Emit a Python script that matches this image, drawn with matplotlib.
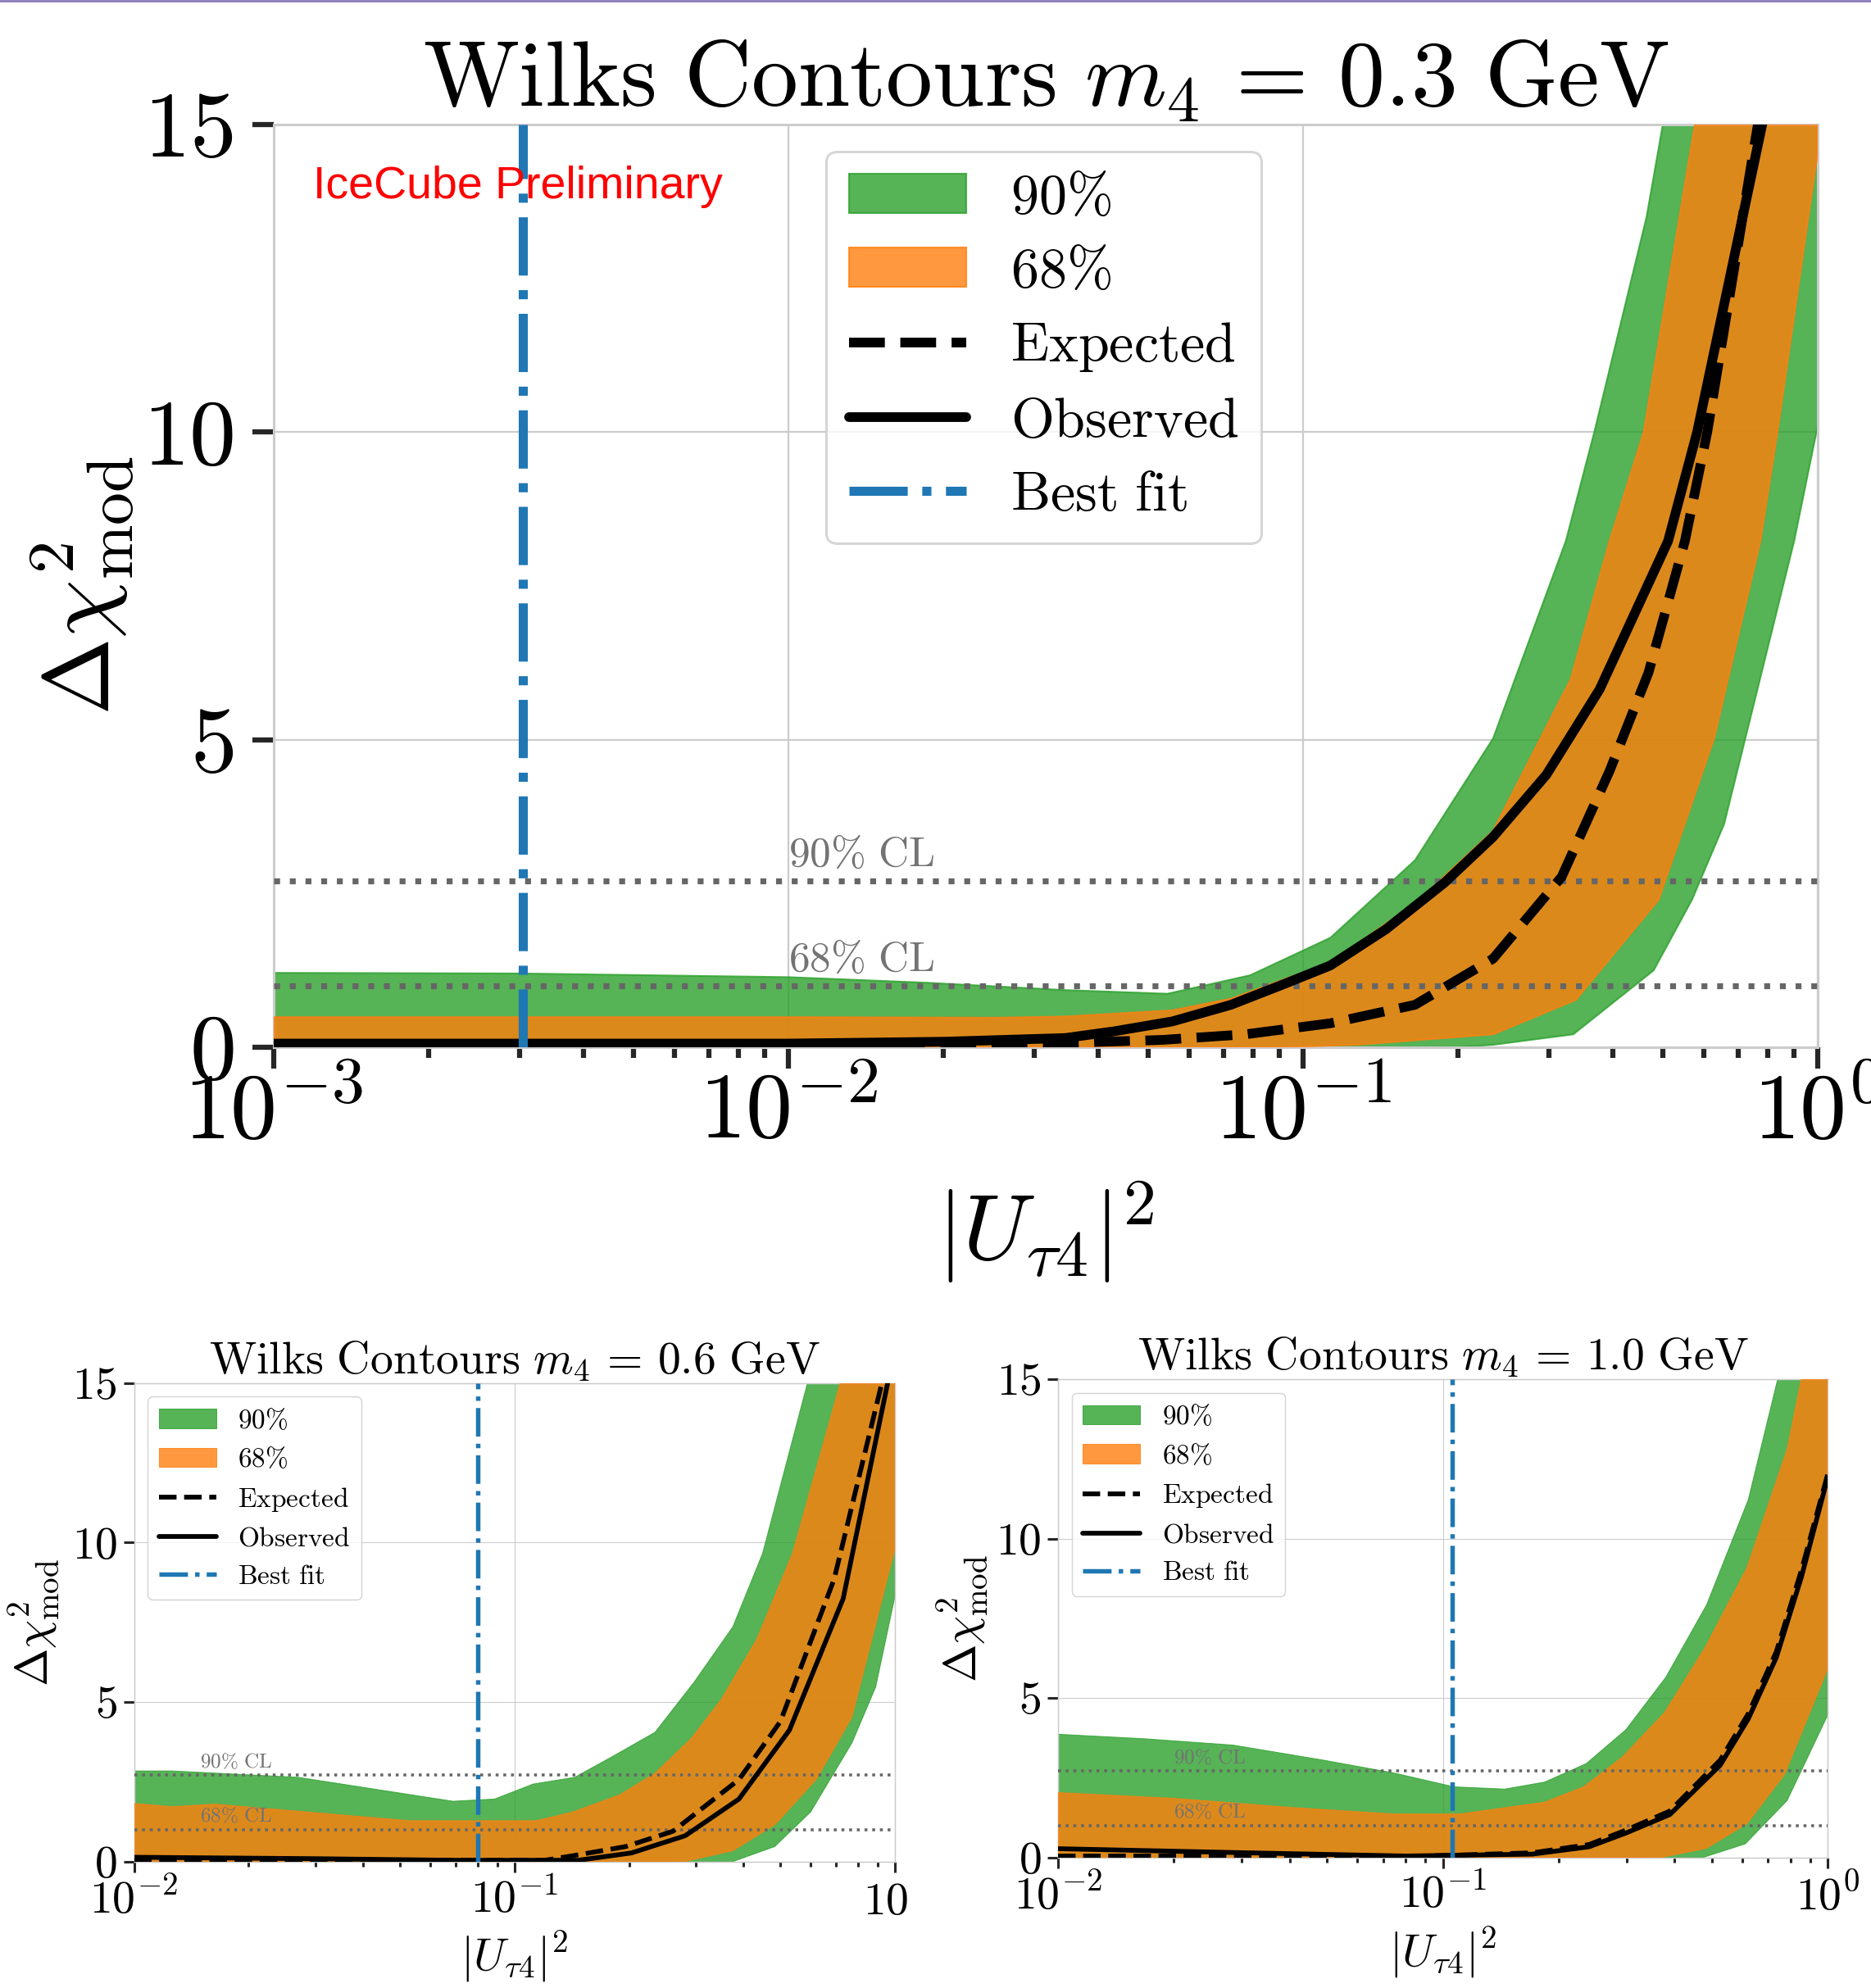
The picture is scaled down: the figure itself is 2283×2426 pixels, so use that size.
import numpy as np
import matplotlib
matplotlib.use("Agg")
import matplotlib.pyplot as plt
from matplotlib.lines import Line2D
from matplotlib.ticker import LogLocator, NullFormatter
from matplotlib.transforms import Bbox, TransformedBbox

plt.rcParams['mathtext.fontset'] = 'cm'
plt.rcParams['font.family'] = 'serif'
plt.rcParams['font.serif'] = ['cmr10', 'DejaVu Serif']
plt.rcParams['axes.formatter.use_mathtext'] = True

# ---------------- data: m4 = 0.3 GeV ----------------
m03_g90_up_x = [1e-3, 3e-3, 1e-2, 0.0185, 0.0345, 0.0545, 0.0789, 0.113, 0.165, 0.234, 0.324, 0.368, 0.465, 0.50, 1.0]
m03_g90_up_y = [1.21, 1.20, 1.14, 1.05, 0.93, 0.87, 1.17, 1.78, 3.04, 5.02, 8.23, 10.0, 13.5, 15.0, 40.0]
m03_g90_lo_x = [1e-3, 0.20, 0.234, 0.335, 0.48, 0.57, 0.658, 0.90, 1.0]
m03_g90_lo_y = [0.0, 0.0, 0.04, 0.21, 1.25, 2.40, 3.63, 8.23, 10.1]
m03_o68_up_x = [1e-3, 1e-2, 0.025, 0.0345, 0.0557, 0.0724, 0.113, 0.165, 0.234, 0.331, 0.394, 0.459, 0.577, 1.0]
m03_o68_up_y = [0.49, 0.49, 0.48, 0.50, 0.60, 0.79, 1.38, 2.34, 3.52, 5.98, 8.23, 10.0, 15.0, 40.0]
m03_o68_lo_x = [1e-3, 0.09, 0.127, 0.234, 0.339, 0.491, 0.629, 0.774, 0.835, 0.99, 1.0]
m03_o68_lo_y = [0.0, 0.0, 0.04, 0.21, 0.77, 2.40, 5.02, 8.23, 10.0, 14.3, 14.5]
m03_obs_x = [1e-3, 1e-2, 0.02, 0.0345, 0.043, 0.0557, 0.0724, 0.092, 0.113, 0.145, 0.188, 0.234, 0.297, 0.377, 0.512, 0.583, 0.78, 1.0]
m03_obs_y = [0.06, 0.06, 0.09, 0.15, 0.26, 0.42, 0.69, 1.03, 1.33, 1.92, 2.67, 3.42, 4.43, 5.82, 8.23, 10.0, 15.0, 21.0]
m03_exp_x = [1e-3, 0.02, 0.0345, 0.0533, 0.0772, 0.113, 0.165, 0.234, 0.318, 0.394, 0.469, 0.552, 0.61, 0.765, 1.0]
m03_exp_y = [0.03, 0.04, 0.07, 0.12, 0.21, 0.39, 0.69, 1.44, 2.77, 4.49, 6.09, 8.23, 10.0, 15.0, 21.0]
m03_best = 3.05e-3

# ---------------- data: m4 = 0.6 GeV ----------------
m06_g90_up_x = [0.01, 0.0126, 0.027, 0.0689, 0.0887, 0.112, 0.144, 0.182, 0.234, 0.296, 0.375, 0.449, 0.589, 1.0]
m06_g90_up_y = [2.84, 2.84, 2.64, 1.89, 1.96, 2.43, 2.64, 3.31, 4.05, 5.61, 7.36, 9.66, 15.0, 40.0]
m06_g90_lo_x = [0.01, 0.375, 0.483, 0.60, 0.771, 0.89, 1.0]
m06_g90_lo_y = [0.0, 0.0, 0.47, 1.55, 3.72, 5.47, 8.31]
m06_o68_up_x = [0.01, 0.0126, 0.0163, 0.053, 0.114, 0.142, 0.189, 0.234, 0.291, 0.349, 0.433, 0.538, 0.718, 1.0]
m06_o68_up_y = [1.82, 1.72, 1.80, 1.28, 1.28, 1.55, 2.09, 2.77, 3.85, 5.07, 6.96, 9.66, 15.0, 40.0]
m06_o68_lo_x = [0.01, 0.28, 0.375, 0.483, 0.621, 0.771, 1.0]
m06_o68_lo_y = [0.0, 0.0, 0.34, 1.15, 2.57, 4.53, 9.8]
m06_obs_x = [0.01, 0.03, 0.069, 0.147, 0.203, 0.281, 0.389, 0.528, 0.731, 0.957, 1.0]
m06_obs_y = [0.135, 0.09, 0.04, 0.04, 0.27, 0.81, 1.96, 4.12, 8.24, 15.0, 16.5]
m06_exp_x = [0.01, 0.12, 0.142, 0.196, 0.261, 0.389, 0.50, 0.692, 0.924, 1.0]
m06_exp_y = [0.04, 0.04, 0.18, 0.47, 0.95, 2.57, 4.39, 8.85, 15.0, 17.0]
m06_best = 0.080

# ---------------- data: m4 = 1.0 GeV ----------------
m10_g90_up_x = [0.01, 0.0167, 0.0285, 0.0488, 0.0743, 0.107, 0.145, 0.184, 0.236, 0.299, 0.38, 0.485, 0.622, 0.742, 1.0]
m10_g90_up_y = [3.86, 3.72, 3.52, 3.05, 2.65, 2.21, 2.14, 2.36, 2.94, 4.0, 5.65, 7.92, 11.21, 15.0, 40.0]
m10_g90_lo_x = [0.01, 0.476, 0.611, 0.785, 1.0]
m10_g90_lo_y = [0.0, 0.0, 0.42, 1.78, 4.45]
m10_o68_up_x = [0.01, 0.02, 0.0408, 0.0743, 0.111, 0.184, 0.232, 0.292, 0.377, 0.48, 0.617, 0.785, 0.854, 1.0]
m10_o68_up_y = [2.03, 1.85, 1.56, 1.36, 1.36, 1.73, 2.21, 3.13, 4.54, 6.57, 9.08, 12.8, 15.0, 25.0]
m10_o68_lo_x = [0.01, 0.371, 0.484, 0.617, 0.773, 1.0]
m10_o68_lo_y = [0.0, 0.0, 0.28, 1.05, 2.60, 5.9]
m10_obs_x = [0.01, 0.0285, 0.08, 0.171, 0.24, 0.299, 0.389, 0.526, 0.622, 0.736, 0.855, 1.0]
m10_obs_y = [0.27, 0.15, 0.04, 0.10, 0.33, 0.76, 1.34, 2.89, 4.34, 6.27, 8.79, 11.9]
m10_exp_x = [0.01, 0.09, 0.171, 0.24, 0.299, 0.389, 0.526, 0.622, 0.736, 0.855, 1.0]
m10_exp_y = [0.04, 0.04, 0.14, 0.40, 0.85, 1.45, 3.05, 4.50, 6.45, 9.0, 12.0]
m10_best = 0.106

cl_levels = [2.71, 1.0]
cl_labels = [r'$\mathrm{90\%\ CL}$', r'$\mathrm{68\%\ CL}$']
y_ticks = [0, 5, 10, 15]
legend_labels = [r'$\mathrm{90\%}$', r'$\mathrm{68\%}$', r'$\mathrm{Expected}$',
                 r'$\mathrm{Observed}$', r'$\mathrm{Best\ fit}$']

GREEN, ORANGE, BLUE = '#2ca02c', '#ff7f0e', '#1f77b4'


def band(ax, ux, uy, lx, ly, color, s, z):
    px = np.concatenate([ux, lx[::-1]])
    py = np.concatenate([uy, ly[::-1]])
    return ax.fill(px, py, color=color, alpha=0.8, lw=1.5 * s, zorder=z)[0]


def panel(ax, s, xmin, d, mass, cl_x, ypad, xpad, ylab_x, xlab_y,
          leg_anchor=None, labelspacing=0.5):
    ax.set_xscale('log')
    g = band(ax, d['g90_up_x'], d['g90_up_y'], d['g90_lo_x'], d['g90_lo_y'], GREEN, s, 2)
    o = band(ax, d['o68_up_x'], d['o68_up_y'], d['o68_lo_x'], d['o68_lo_y'], ORANGE, s, 3)
    for lev, lab in zip(cl_levels, cl_labels):
        ax.axhline(lev, color='0.4', ls=':', lw=5.2 * s, zorder=4)
        ax.text(cl_x, lev + 0.24, lab, color='0.45', fontsize=37 * s, va='baseline', zorder=4)
    e, = ax.plot(d['exp_x'], d['exp_y'], color='k', ls='--', lw=8.5 * s, zorder=5)
    ob, = ax.plot(d['obs_x'], d['obs_y'], color='k', ls='-', lw=8.5 * s, zorder=5,
                  solid_capstyle='round')
    b = ax.axvline(d['best'], color=BLUE, ls='-.', lw=8 * s, zorder=6)

    ax.set_xlim(xmin, 1.0)
    ax.set_ylim(0, 15)
    dec = np.arange(int(round(np.log10(xmin))), 1)
    ax.set_xticks([10.0 ** k for k in dec], labels=[rf'$10^{{{k}}}$' for k in dec])
    ax.xaxis.set_minor_locator(LogLocator(base=10, subs=np.arange(2, 10)))
    ax.xaxis.set_minor_formatter(NullFormatter())
    ax.set_yticks(y_ticks, labels=[rf'${v}$' for v in y_ticks])
    ax.tick_params(which='major', direction='out', length=19 * s, width=4.5 * s,
                   color='0.15', labelsize=82 * s)
    ax.tick_params(axis='x', which='minor', direction='out', length=9 * s, width=4.5 * s,
                   color='0.15')
    ax.tick_params(axis='y', which='major', pad=ypad)
    ax.tick_params(axis='x', which='major', pad=xpad)
    ax.grid(True, which='major', color='0.8', lw=1.6 * s)
    ax.set_axisbelow(True)
    for sp in ax.spines.values():
        sp.set_color('0.8')
        sp.set_linewidth(2.2 * s)

    ax.set_title(rf'$\mathrm{{Wilks\ Contours}}\ m_4\,=\,{mass}\ \mathrm{{GeV}}$',
                 fontsize=82 * s, pad=7 * s)
    ax.set_ylabel(r'$\Delta\chi^2_{\mathrm{mod}}$', fontsize=82 * s)
    ax.set_xlabel(r'$|U_{\tau 4}|^2$', fontsize=82 * s)
    ax.yaxis.set_label_coords(ylab_x, 0.5)
    ax.xaxis.set_label_coords(0.5, xlab_y)

    kw = dict(fontsize=49 * s, handlelength=2.1, frameon=True, fancybox=True,
              framealpha=0.8, edgecolor='0.8', labelspacing=labelspacing)
    if leg_anchor is None:
        leg = ax.legend([g, o, e, ob, b], legend_labels, loc='upper left', **kw)
    else:
        leg = ax.legend([g, o, e, ob, b], legend_labels, loc='upper left',
                        bbox_to_anchor=leg_anchor, borderaxespad=0, **kw)
    leg.get_frame().set_linewidth(2.2 * s)
    leg.set_zorder(10)
    return ax


def pack(prefix):
    gl = globals()
    d = {}
    for k in ['g90_up_x', 'g90_up_y', 'g90_lo_x', 'g90_lo_y', 'o68_up_x', 'o68_up_y',
              'o68_lo_x', 'o68_lo_y', 'obs_x', 'obs_y', 'exp_x', 'exp_y']:
        d[k] = np.asarray(gl[f'{prefix}_{k}'], dtype=float)
    d['best'] = gl[f'{prefix}_best']
    return d


W, H = 2283, 2426
fig = plt.figure(figsize=(W / 100, H / 100), dpi=100)
fig.patch.set_facecolor('white')

ax_top = fig.add_axes([334 / W, 1 - 1278 / H, 1884 / W, 1126 / H])
ax_bl = fig.add_axes([163.6 / W, 1 - 2271.7 / H, 928.4 / W, 584 / H])
ax_br = fig.add_axes([1291 / W, 1 - 2266.5 / H, 939 / W, 583.5 / H])

panel(ax_top, 1.0, 1e-3, pack('m03'), '0.3', 1e-2, 16, 3, -0.0886, -0.143,
      leg_anchor=(0.358, 0.971), labelspacing=0.42)
ax_top.text(0.0255, 0.92, 'IceCube Preliminary', transform=ax_top.transAxes,
            color='red', fontsize=40, family=['Liberation Sans', 'DejaVu Sans'],
            va='baseline', zorder=20)

sb = 0.49
panel(ax_bl, sb, 1e-2, pack('m06'), '0.6', 0.0149, 5.5, 5, -0.095, -0.142)
panel(ax_br, sb, 1e-2, pack('m10'), '1.0', 0.02, 5.5, 5, -0.088, -0.142)

# the bottom-left panel is cut off on its right side in the composed image
clip = TransformedBbox(Bbox.from_extents(0, 0, 1110 / W, 1), fig.transFigure)
for lbl in ax_bl.get_xticklabels():
    lbl.set_clip_box(clip)
    lbl.set_clip_on(True)

fig.add_artist(Line2D([0, 1], [1 - 1 / H, 1 - 1 / H], transform=fig.transFigure,
                      color='#8a7ab8', lw=2))

fig.savefig('out.png', dpi=100, facecolor='white')
